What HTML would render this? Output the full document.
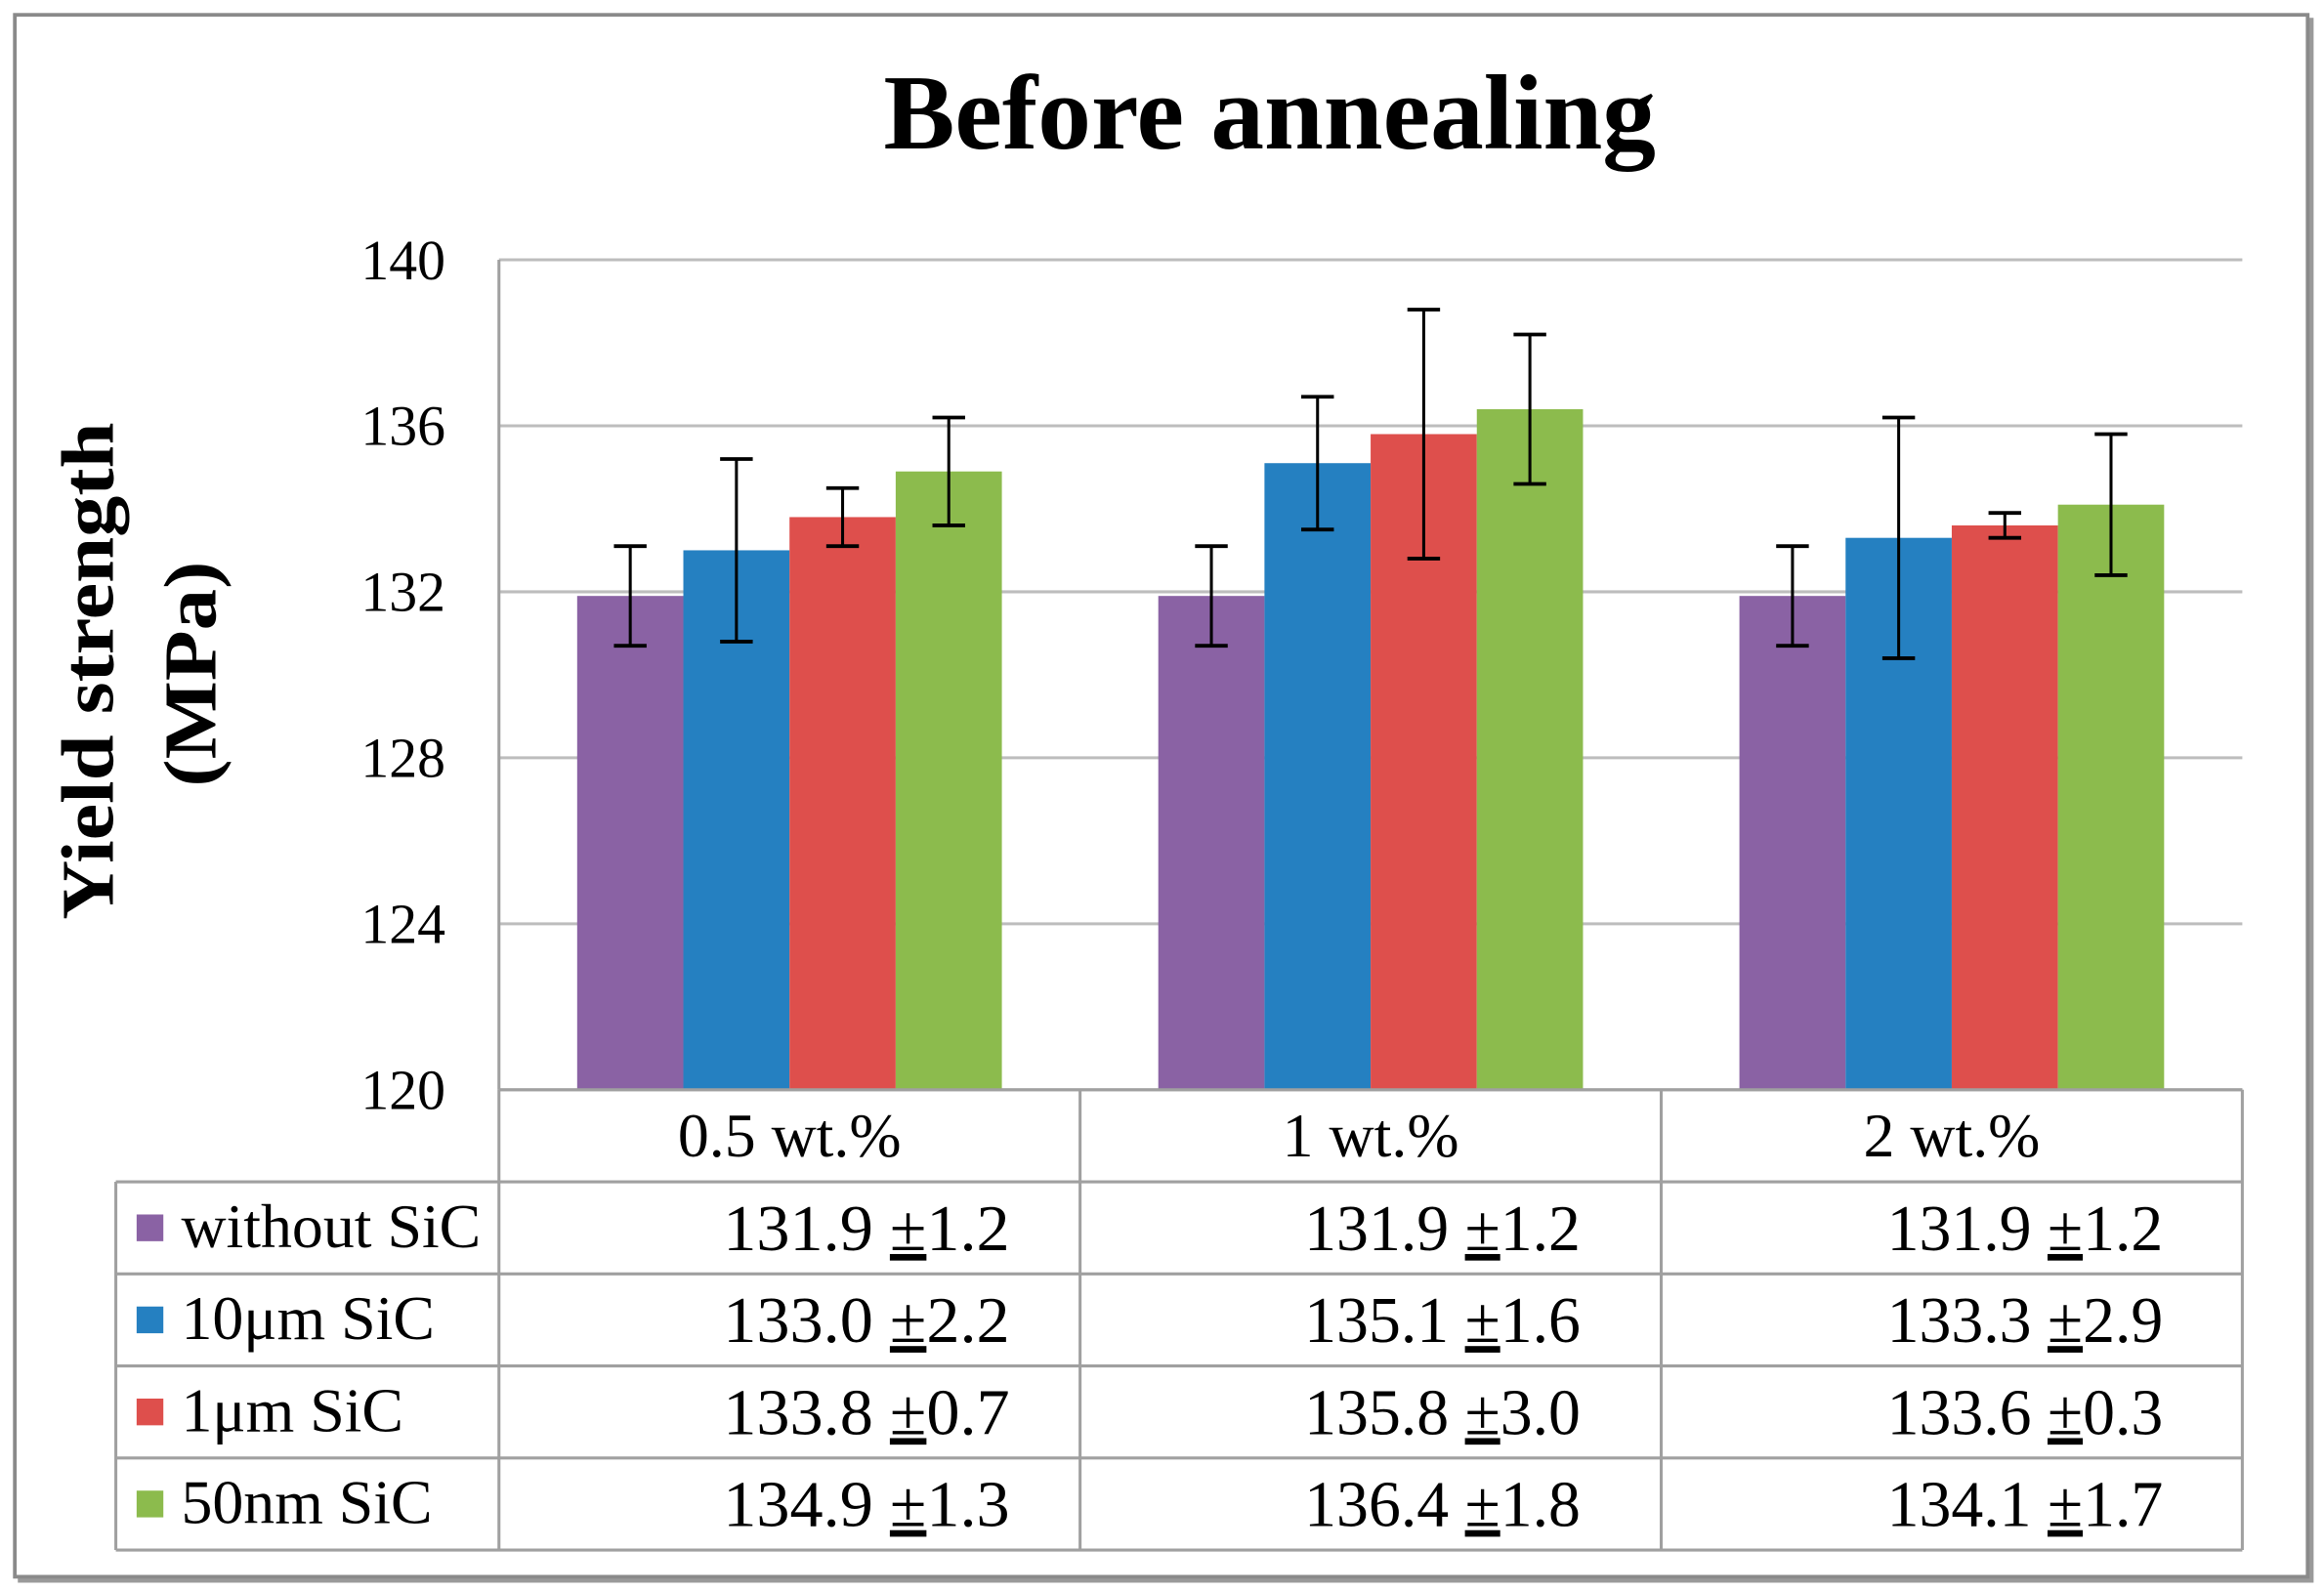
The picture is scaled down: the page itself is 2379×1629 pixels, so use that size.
<!DOCTYPE html>
<html><head><meta charset="utf-8"><style>
html,body{margin:0;padding:0;background:#fff}
svg{display:block}
text{font-family:"Liberation Serif",serif;fill:#000}
</style></head><body>
<svg id="chart" width="2379" height="1629" viewBox="0 0 1565 1071.6" preserveAspectRatio="none" xmlns="http://www.w3.org/2000/svg">
<rect x="12" y="12" width="1546" height="1054" fill="#9a9a9a"/>
<rect x="10" y="10" width="1544" height="1052" fill="#fff" stroke="#8a8a8a" stroke-width="2.5"/>
<text x="855" y="100" text-anchor="middle" font-size="72" font-weight="bold" textLength="520" lengthAdjust="spacingAndGlyphs">Before annealing</text>
<text transform="translate(76,452) rotate(-90)" text-anchor="middle" font-size="50" font-weight="bold" textLength="335" lengthAdjust="spacingAndGlyphs">Yield strength</text>
<text transform="translate(145,454) rotate(-90)" text-anchor="middle" font-size="50" font-weight="bold" textLength="152" lengthAdjust="spacingAndGlyphs">(MPa)</text>
<g id="grid"></g><g id="bars"></g><g id="errs"></g><g id="table"></g>
</svg>
<script>
const categories = ["0.5 wt.%", "1 wt.%", "2 wt.%"];
const seriesNames = ["without SiC", "10μm SiC", "1μm SiC", "50nm SiC"];
const colors = ["#8a62a4", "#2580c1", "#de4f4c", "#8cbb4d"];
const withoutSiC = [131.9, 131.9, 131.9];
const sic10um = [133.0, 135.1, 133.3];
const sic1um = [133.8, 135.8, 133.6];
const sic50nm = [134.9, 136.4, 134.1];
const errWithout = [1.2, 1.2, 1.2];
const err10um = [2.2, 1.6, 2.9];
const err1um = [0.7, 3.0, 0.3];
const err50nm = [1.3, 1.8, 1.7];
const yTicks = [120, 124, 128, 132, 136, 140];
const values = [withoutSiC, sic10um, sic1um, sic50nm];
const errors = [errWithout, err10um, err1um, err50nm];

const NS = "http://www.w3.org/2000/svg";
const X0 = 336, X1 = 1510, Y0 = 734, Y1 = 175, YMIN = 120, YMAX = 140;
const groupW = (X1 - X0) / categories.length;
const barW = 71.5, groupPad = (groupW - 4 * barW) / 2;
function yScale(v){ return Y0 - (v - YMIN) / (YMAX - YMIN) * (Y0 - Y1); }
function xBar(c, s){ return X0 + c * groupW + groupPad + s * barW; }
function mk(tag, attrs, parent, txt){
  const e = document.createElementNS(NS, tag);
  for (const k in attrs) e.setAttribute(k, attrs[k]);
  if (txt !== undefined) e.textContent = txt;
  parent.appendChild(e); return e;
}
const grid = document.getElementById("grid");
yTicks.forEach(t => {
  const y = yScale(t);
  const l = mk("line", {x1: X0, x2: X1, y1: y, y2: y, stroke: "#bdbdbd", "stroke-width": 2}, grid);
  
  
  const tx = mk("text", {x: 300, y: y + 13, "text-anchor": "end", "font-size": 38}, grid, String(t));
  
  
});
const ax = mk("line", {x1: X0, x2: X0, y1: Y1, y2: Y0, stroke: "#a0a0a0", "stroke-width": 2}, grid);



const bars = document.getElementById("bars"), errs = document.getElementById("errs");
values.forEach((arr, s) => {
  arr.forEach((v, c) => {
    const x = xBar(c, s), y = yScale(v);
    const r = mk("rect", {x: x, y: y, width: barW, height: Y0 - y, fill: colors[s]}, bars);
    
    
    const cx = x + barW / 2, e = errors[s][c];
    const yt = yScale(v + e), yb = yScale(v - e);
    const g = mk("g", {stroke: "#000", "stroke-width": 2}, errs);
    
    
    mk("line", {x1: cx, x2: cx, y1: yt, y2: yb}, g);
    mk("line", {x1: cx - 11, x2: cx + 11, y1: yt, y2: yt, "stroke-width": 2.5}, g);
    mk("line", {x1: cx - 11, x2: cx + 11, y1: yb, y2: yb, "stroke-width": 2.5}, g);
  });
});

const tbl = document.getElementById("table");
const rowH = 62, TL = 78, hdrTop = Y0, hdrBot = 796;
const bColor = "#a0a0a0";
function ln(x1, y1, x2, y2){ mk("line", {x1, y1, x2, y2, stroke: bColor, "stroke-width": 2}, tbl); }
const bottom = hdrBot + rowH * 4;
ln(X0, hdrTop, X1, hdrTop);
for (let i = 0; i <= 4; i++) ln(TL, hdrBot + i * rowH, X1, hdrBot + i * rowH);
ln(TL, hdrBot, TL, bottom);
for (let c = 0; c <= 3; c++) ln(X0 + c * groupW, hdrTop, X0 + c * groupW, bottom);
categories.forEach((cat, c) => {
  const t = mk("text", {x: X0 + c * groupW + groupW / 2, y: hdrBot - 17, "text-anchor": "middle", "font-size": 42}, tbl, cat);
  
  
});
const valOffsets = [151, 151, 152];
seriesNames.forEach((nm, s) => {
  const cy = hdrBot + s * rowH + rowH / 2;
  const sw = mk("rect", {x: 92, y: cy - 9, width: 18, height: 18, fill: colors[s]}, tbl);
  
  
  const lt = mk("text", {x: 122, y: cy + 13, "font-size": 42}, tbl, nm);
  
  
  categories.forEach((cat, c) => {
    const v = values[s][c], e = errors[s][c];
    const x = X0 + c * groupW + valOffsets[c];
    const t = mk("text", {x: x, y: cy + 15, "font-size": 44}, tbl);
    
    
    mk("tspan", {}, t, v.toFixed(1) + (c === 0 ? "  " : " "));
    mk("tspan", {"text-decoration": "underline"}, t, "±");
    mk("tspan", {}, t, e.toFixed(1));
    t.setAttribute("textLength", c === 0 ? 193 : 186);
    t.setAttribute("lengthAdjust", "spacingAndGlyphs");
  });
});
</script>
</body></html>
